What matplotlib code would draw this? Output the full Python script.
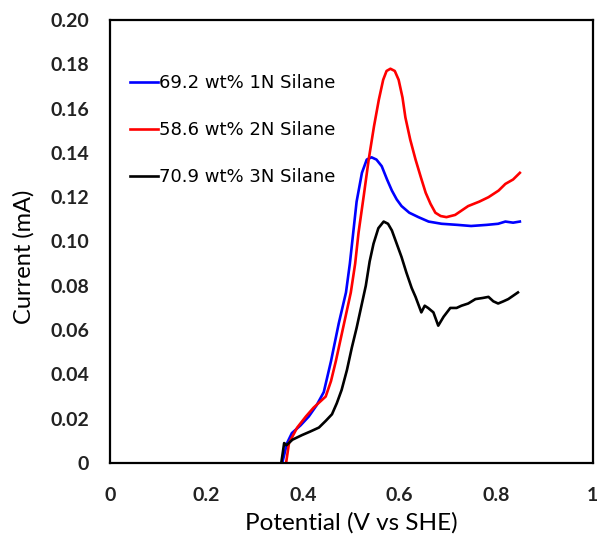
import matplotlib.pyplot as plt

# Datos (potencial en V vs SHE, corriente en mA)
x_1n = [0.357, 0.367, 0.377, 0.395, 0.412, 0.428, 0.443, 0.458, 0.474, 0.489, 0.497, 0.505,
        0.511, 0.522, 0.532, 0.542, 0.552, 0.563, 0.574, 0.584, 0.594, 0.604, 0.620, 0.639,
        0.660, 0.687, 0.720, 0.748, 0.780, 0.804, 0.819, 0.835, 0.849]
y_1n = [0.0, 0.009, 0.0135, 0.017, 0.021, 0.026, 0.032, 0.046, 0.063, 0.077, 0.090, 0.106,
        0.118, 0.131, 0.137, 0.138, 0.137, 0.134, 0.128, 0.123, 0.119, 0.116, 0.113, 0.111,
        0.109, 0.108, 0.1075, 0.107, 0.1075, 0.108, 0.109, 0.1085, 0.109]

x_2n = [0.365, 0.371, 0.388, 0.406, 0.422, 0.437, 0.447, 0.458, 0.468, 0.485, 0.499, 0.508,
        0.515, 0.526, 0.536, 0.547, 0.557, 0.566, 0.573, 0.581, 0.590, 0.598, 0.606, 0.612,
        0.622, 0.633, 0.644, 0.654, 0.664, 0.674, 0.685, 0.697, 0.715, 0.742, 0.765, 0.784,
        0.805, 0.819, 0.835, 0.849]
y_2n = [0.0, 0.009, 0.016, 0.021, 0.025, 0.028, 0.030, 0.037, 0.046, 0.063, 0.077, 0.090,
        0.104, 0.121, 0.137, 0.152, 0.164, 0.173, 0.177, 0.178, 0.177, 0.173, 0.165, 0.156,
        0.146, 0.137, 0.129, 0.122, 0.117, 0.113, 0.1115, 0.111, 0.112, 0.116, 0.118, 0.120,
        0.123, 0.126, 0.128, 0.131]

x_3n = [0.355, 0.361, 0.366, 0.378, 0.398, 0.415, 0.433, 0.447, 0.460, 0.470, 0.480, 0.491,
        0.501, 0.511, 0.520, 0.530, 0.538, 0.546, 0.556, 0.567, 0.576, 0.584, 0.594, 0.604,
        0.614, 0.625, 0.633, 0.645, 0.652, 0.659, 0.670, 0.680, 0.691, 0.705, 0.718, 0.728,
        0.742, 0.757, 0.772, 0.784, 0.794, 0.804, 0.815, 0.825, 0.845]
y_3n = [0.0, 0.009, 0.008, 0.0105, 0.0126, 0.0142, 0.016, 0.019, 0.022, 0.027, 0.033, 0.042,
        0.052, 0.061, 0.070, 0.080, 0.091, 0.099, 0.106, 0.109, 0.108, 0.105, 0.099, 0.093,
        0.086, 0.079, 0.075, 0.068, 0.071, 0.070, 0.068, 0.062, 0.066, 0.070, 0.070, 0.071,
        0.072, 0.074, 0.0745, 0.075, 0.073, 0.072, 0.073, 0.074, 0.077]

etiquetas = ['69.2 wt% 1N Silane', '58.6 wt% 2N Silane', '70.9 wt% 3N Silane']
colores = ['#0000ff', '#ff0000', '#000000']

x_ticks = [0, 0.2, 0.4, 0.6, 0.8, 1]
x_ticklabels = ['0', '0.2', '0.4', '0.6', '0.8', '1']
y_ticks = [0, 0.02, 0.04, 0.06, 0.08, 0.10, 0.12, 0.14, 0.16, 0.18, 0.20]
y_ticklabels = ['0'] + ['%.2f' % v for v in y_ticks[1:]]

plt.rcParams['font.family'] = ['Lato', 'DejaVu Sans']

fig = plt.figure(figsize=(6, 5.35), dpi=100)
ax = fig.add_axes([0.183, 0.1346, 0.805, 0.828])

series = [(x_1n, y_1n), (x_2n, y_2n), (x_3n, y_3n)]
for (xs, ys), lab, col in zip(series, etiquetas, colores):
    ax.plot(xs, ys, color=col, linewidth=1.9, label=lab)

ax.set_xlim(0, 1)
ax.set_ylim(0, 0.20)
ax.set_xticks(x_ticks)
ax.set_xticklabels(x_ticklabels, fontsize=14, fontweight='bold', color='#222222')
ax.set_yticks(y_ticks)
ax.set_yticklabels(y_ticklabels, fontsize=14, fontweight='bold', color='#222222')
ax.tick_params(length=0, pad=15)
ax.tick_params(axis='x', pad=17)
for s in ax.spines.values():
    s.set_linewidth(1.6)

ax.set_xlabel('Potential (V vs SHE)', fontsize=17.5)
ax.xaxis.set_label_coords(0.5, -0.11)
ax.set_ylabel('Current (mA)', fontsize=17)
ax.yaxis.set_label_coords(-0.155, 0.465)

ax.legend(loc='upper left', bbox_to_anchor=(0.041, 0.878), frameon=False,
          prop={'family': 'DejaVu Sans', 'size': 13}, borderpad=0, borderaxespad=0,
          handlelength=1.55, handletextpad=0.1, labelspacing=1.6)

fig.savefig('out.png', dpi=100)
